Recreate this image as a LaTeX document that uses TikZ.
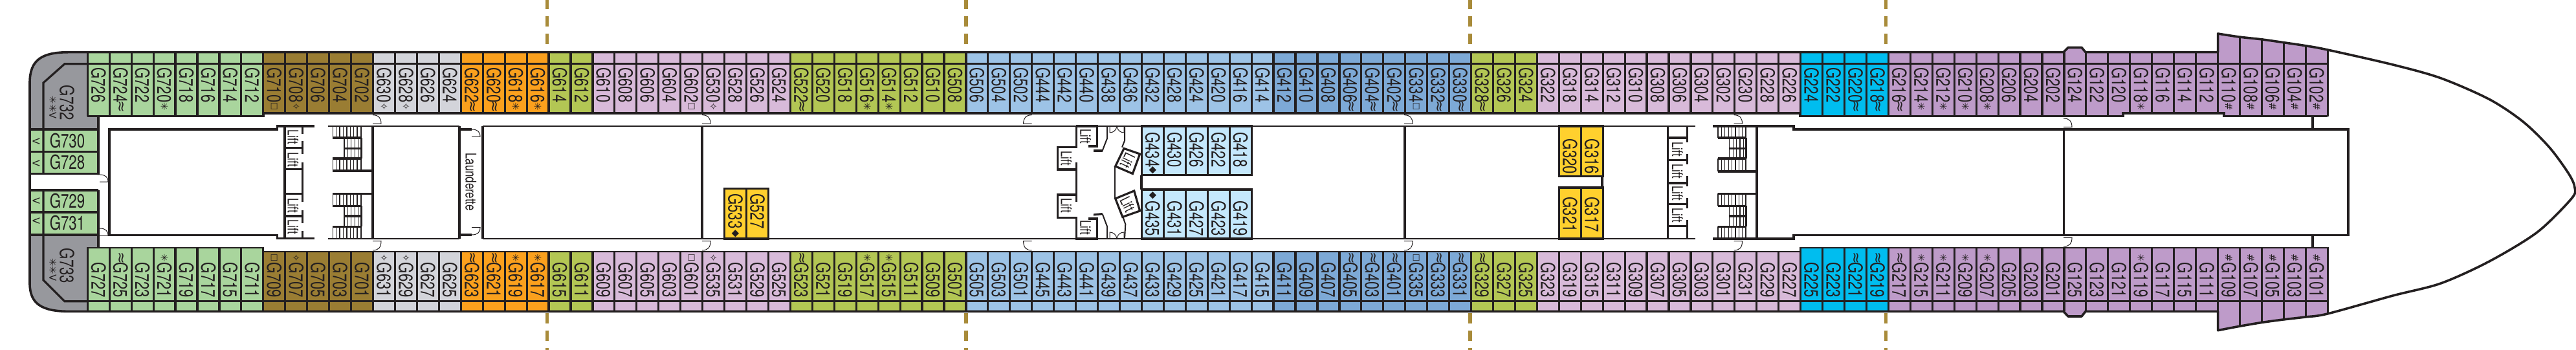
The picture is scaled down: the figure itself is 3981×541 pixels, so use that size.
\documentclass[tikz,border=0pt]{standalone}
\usepackage{fontspec}
\setmainfont{TeX Gyre Heros}
\newfontfamily\cabfont[FakeStretch=0.74]{TeX Gyre Heros}
\newfontfamily\markfont{DejaVu Sans}
\definecolor{deckink}{HTML}{231F20}
\definecolor{sterngrey}{HTML}{97989D}
\definecolor{cabgreen}{HTML}{A9D59D}
\definecolor{cabbrown}{HTML}{9A7D33}
\definecolor{cabgrey}{HTML}{D3D4DA}
\definecolor{caborange}{HTML}{FBA01D}
\definecolor{cabolive}{HTML}{B3C654}
\definecolor{cablilac}{HTML}{D8BAD9}
\definecolor{cabblue}{HTML}{9DC3E6}
\definecolor{cabdeep}{HTML}{7DA9D6}
\definecolor{cabcyan}{HTML}{00BDEF}
\definecolor{cabpurple}{HTML}{BE9BC9}
\definecolor{cabpale}{HTML}{C5E8FC}
\definecolor{cabyellow}{HTML}{FFD02E}
\definecolor{dashgold}{HTML}{A88B3A}
\tikzset{
  hull/.style={draw=deckink,line width=.9pt,line join=round},
  wall/.style={draw=deckink,line width=.8pt},
  thinwall/.style={draw=deckink,line width=.5pt},
  doorline/.style={draw=deckink,line width=.25pt},
  hatchline/.style={draw=deckink,line width=.32pt},
  deckdash/.style={draw=dashgold,line width=1.35pt,dash pattern=on 4.12pt off 2.62pt},
  cabflat/.style={inner sep=0pt,text=deckink,font=\cabfont\fontsize{7.5}{7.5}\selectfont},
  cablabel/.style={cabflat,rotate=-90},
  cabmark/.style={inner sep=0pt,text=deckink,rotate=-90,font=\markfont\fontsize{3.7}{3.7}\selectfont},
  liftlabel/.style={inner sep=0pt,text=deckink,font=\cabfont\fontsize{5.7}{5.7}\selectfont},
}
\newcommand\waves{{\fontsize{5.6}{5.6}\selectfont ≈}}
\newcommand\roomy{{\fontsize{3.2}{3.2}\selectfont □}}
\newcommand\door[4]{\draw[doorline,shift={(#1,#2)},xscale=#3,yscale=#4] (0,0) .. controls (9,0) and (13,5) .. (13,15) -- (0,15);}
\newcommand\stairflight[9]{%
  \foreach \hx in {0,5.4,...,43.2} {
    \draw[hatchline] (#1+\hx,#5) -- (#1+\hx,#6);
    \draw[hatchline] (#1+\hx,#8) -- (#1+\hx,#9);
  }
  \foreach \hx in {0,5.4,...,27} \draw[hatchline] (#2+\hx,#6) -- (#2+\hx,#8);
  \draw[wall] (#1,#6) -- (#3,#6);
  \draw[wall] (#2,#7) -- (#3,#7);
  \draw[wall] (#1,#8) -- (#3,#8);
  \draw[wall,line width=.9pt] (#1,#9) -- (#4,#9);
  \draw[thinwall] (#3,#5) -- (#3,#9);
}
\newcommand\cabbox[5]{%
  \fill[#5] (135.3+33.94*#1,#3) rectangle (135.3+33.94*#2,#4);
  \pgfmathtruncatemacro\boxlast{#2-1}
  \foreach \i in {#1,...,\boxlast} \draw[wall] (135.3+33.94*\i,#3) -- (135.3+33.94*\i,#4);
  \draw[wall] (135.3+33.94*#1,#3) rectangle (135.3+33.94*#2,#4);
}
\begin{document}
\begin{tikzpicture}[x=.25pt,y=-.25pt]
\useasboundingbox (0,0) rectangle (3981,541);

% cut lines
\foreach \x in {845.5,1493,2272,2914.4} {
  \draw[deckdash] (\x,68.3) -- (\x,0);
  \draw[deckdash] (\x,483.8) -- (\x,541);
}

% stern
\fill[sterngrey] (107,80.7) -- (135.3,80.7) -- (135.3,481.4) -- (107,481.4) .. controls (65,481.4) and (46,470) .. (46,438) -- (46,128) .. controls (46,92) and (65,80.7) .. (107,80.7) -- cycle;
\fill[sterngrey] (135,98) rectangle (152,201);
\fill[sterngrey] (135,360) rectangle (152,466);
\fill[cabgreen] (46,200) rectangle (152,269);
\fill[cabgreen] (46,294) rectangle (152,363);

% cabin colours, same along both sides
\foreach \a/\b/\c in {0/8/cabgreen,8/13/cabbrown,13/17/cabgrey,17/21/caborange,21/23/cabolive,23/32/cablilac,32/40/cabolive,40/54/cabblue,54/63/cabdeep,63/66/cabolive,66/78/cablilac,78/82/cabcyan,82/97/cabpurple} {
  \fill[\c] (135.3+33.94*\a,80.7) rectangle (135.3+33.94*\b,180);
  \fill[\c] (135.3+33.94*\a,382) rectangle (135.3+33.94*\b,481.4);
}
\fill[cabpurple] (3427.5,52) -- (3460,57) -- (3494.6,60.8) -- (3528.5,65.6) -- (3562.8,70.7) -- (3597,77) -- (3597,180) -- (3427.5,180) -- cycle;
\fill[cabpurple] (3427.5,510.7) -- (3460,504.5) -- (3494.6,498.6) -- (3528.5,494) -- (3562.8,490) -- (3597,485) -- (3597,382) -- (3427.5,382) -- cycle;
\fill[cabpurple] (3189,81) -- (3196,73.5) -- (3217,73.5) -- (3223,81) -- cycle;
\fill[cabpurple] (3189,481) -- (3196,489) -- (3217,489) -- (3223,481) -- cycle;

\foreach \i in {0,...,97} {
  \draw[wall] (135.3+33.94*\i,80.7) -- (135.3+33.94*\i,180);
  \draw[wall] (135.3+33.94*\i,382) -- (135.3+33.94*\i,481.4);
}
\foreach \x/\t/\b in {3461.4/57/504.5,3495.3/60.8/498.6,3529.3/65.6/494,3563.2/70.7/490,3597.2/77/485} {
  \draw[wall] (\x,\t) -- (\x,180);
  \draw[wall] (\x,382) -- (\x,\b);
}
\draw[wall] (135.3,98.7) -- (3597,98.7);
\draw[wall] (135.3,465.8) -- (3597,465.8);

% corridor
\fill[white] (152,179.4) -- (407,179.4) -- (407,175) -- (2782,175) -- (2782,179.4) -- (3281,179.4) -- (3281,175) -- (3437,175) -- (3437,179.4) -- (3597,179.4) -- (3597,383) -- (2782,383) -- (2782,389) -- (407,389) -- (407,383) -- (152,383) -- cycle;
\draw[wall,line width=.9pt] (135.3,179.4) -- (407,179.4) -- (407,175) -- (2782,175) -- (2782,179.4) -- (3281,179.4) -- (3281,175) -- (3437,175) -- (3437,179.4) -- (3597,179.4);
\draw[thinwall,line width=.65pt] (3597,383) -- (2782,383) -- (2782,389) -- (407,389) -- (407,383) -- (135.3,383);

% hull
\draw[hull] (107,80.7) -- (3189,80.7) -- (3196,73.5) -- (3217,73.5) -- (3223,80.7) -- (3427.5,80.7) -- (3427.5,52) -- plot[smooth] coordinates {(3427.5,52) (3460,57) (3494.6,60.8) (3528.5,65.6) (3562.8,70.7) (3597,77) (3698,100) (3772,120.8) (3847,153.5) (3899,188) (3940,228) (3970,269) (3979,290) (3974,307) (3921,359) (3847,404) (3772,438) (3698,457) (3597,485) (3562.8,490) (3528.5,494) (3494.6,498.6) (3460,504.5) (3427.5,510.7)} -- (3427.5,481.4) -- (3223,481.4) -- (3217,489) -- (3196,489) -- (3189,481.4) -- (107,481.4) .. controls (65,481.4) and (46,470) .. (46,438) -- (46,128) .. controls (46,92) and (65,80.7) .. (107,80.7) -- cycle;

% stern suites and rooms
\draw[wall] (135.3,98.7) -- (100,98.7) -- (67,128) -- (67,269);
\draw[wall] (135.3,465.8) -- (100,465.8) -- (67,433) -- (67,294);
\draw[wall] (152,179.4) -- (152,270);
\draw[wall] (152,294) -- (152,383);
\foreach \y in {200,234.6,269,294,328,363} \draw[wall] (46,\y) -- (152,\y);
\fill[white] (47.5,270.5) rectangle (150.5,292.5);

\node[cablabel,anchor=west] (G732) at (103.6,131) {G732};
\node[cablabel,anchor=west] (G733) at (103.6,383) {G733};
\node[cabmark,anchor=west] (mG732) at (81.7,148) {✳✳V};
\node[cabmark,anchor=west] (mG733) at (81.7,398.6) {✳✳V};
\foreach \n/\y/\v in {G730/217.4/219,G728/251/253,G729/310.5/310.6,G731/344.5/341.6} {
  \node[cabflat] (\n) at (104,\y) {\n};
  \node[cabmark] (m\n) at (56,\v) {V};
}

% cabins on the upper side
\foreach \n/\m [count=\i from 0] in {G726/,G724/\waves,G722/,G720/✳,G718/,G716/,G714/,G712/,G710/\roomy,G708/✧,G706/,G704/,G702/,G630/✧,G628/✧,G626/,G624/,G622/\waves,G620/\waves,G618/✳,G616/✳,G614/,G612/,G610/,G608/,G606/,G604/,G602/\roomy,G530/✧,G528/,G526/,G524/,G522/\waves,G520/,G518/,G516/✳,G514/✳,G512/,G510/,G508/,G506/,G504/,G502/,G444/,G442/,G440/,G438/,G436/,G432/,G428/,G424/,G420/,G416/,G414/,G412/,G410/,G408/,G406/\waves,G404/\waves,G402/\waves,G334/\roomy,G332/\waves,G330/\waves,G328/\waves,G326/,G324/,G322/,G318/,G314/,G312/,G310/,G308/,G306/,G304/,G302/,G230/,G228/,G226/,G224/,G222/,G220/\waves,G218/\waves,G216/\waves,G214/✳,G212/✳,G210/✳,G208/✳,G206/,G204/,G202/,G124/,G122/,G120/,G118/✳,G116/,G114/,G112/,G110/\#,G108/\#,G106/\#,G104/\#,G102/\#} {
  \pgfmathsetmacro\cx{152.27+33.94*(\i)}
  \node[cablabel,anchor=west] (\n) at (\cx,103.5) {\n};
  \node[cabmark] (m\n) at (\cx,165) {\m};
}

% cabins on the lower side
\foreach \n/\m [count=\i from 0] in {G727/,G725/\waves,G723/,G721/✳,G719/,G717/,G715/,G711/,G709/\roomy,G707/✧,G705/,G703/,G701/,G631/✧,G629/✧,G627/,G625/,G623/\waves,G621/\waves,G619/✳,G617/✳,G615/,G611/,G609/,G607/,G605/,G603/,G601/\roomy,G535/✧,G531/,G529/,G525/,G523/\waves,G521/,G519/,G517/✳,G515/✳,G511/,G509/,G507/,G505/,G503/,G501/,G445/,G443/,G441/,G439/,G437/,G433/,G429/,G425/,G421/,G417/,G415/,G411/,G409/,G407/,G405/\waves,G403/\waves,G401/\waves,G335/\roomy,G333/\waves,G331/\waves,G329/\waves,G327/,G325/,G323/,G319/,G315/,G311/,G309/,G307/,G305/,G303/,G301/,G231/,G229/,G227/,G225/,G223/,G221/\waves,G219/\waves,G217/\waves,G215/✳,G211/✳,G209/✳,G207/✳,G205/,G203/,G201/,G125/,G123/,G121/,G119/✳,G117/,G115/,G111/,G109/\#,G107/\#,G105/\#,G103/\#,G101/\#} {
  \pgfmathsetmacro\cx{152.27+33.94*(\i)}
  \node[cablabel,anchor=east] (\n) at (\cx,461) {\n};
  \node[cabmark] (m\n) at (\cx,398.5) {\m};
}

% central block, walls
\draw[wall] (486,195) -- (428.6,195) -- (428.6,200) -- (169,200) -- (169,363.7) -- (428.6,363.7) -- (428.6,368.5) -- (486,368.5);
\draw[thinwall] (507,195) -- (710,195);
\draw[thinwall] (507,369) -- (710,369);
\draw[thinwall] (746,195) -- (2620,195);
\draw[thinwall] (746,369) -- (2620,369);
\draw[wall] (576,195) -- (576,369);
\draw[wall] (710,195) -- (710,369);
\draw[wall] (746,195) -- (746,369);
\draw[wall] (710,200) -- (729,200);
\draw[wall] (710,363) -- (729,363);
\draw[wall] (1085,195) -- (1085,369);
\draw[wall] (2171,195) -- (2171,369);
\draw[wall] (2476,272) -- (2476,291);
\draw[wall] (1764,271) -- (1764,293);
\draw[wall] (2647,195) -- (2772,195) -- (2772,200) -- (3629,200) -- (3629,363.7) -- (2772,363.7) -- (2772,369) -- (2647,369);
\draw[wall] (2715,195) -- (2715,369);
\draw[wall] (3189.6,200) -- (3189.6,363.7);
\draw[wall] (3574,179.4) -- (3574,200);
\draw[wall] (3574,363.7) -- (3574,383);

% staircases
\stairflight{514.3}{532}{558}{574}{195}{213}{229.5}{245}{264}
\stairflight{514.3}{532}{558}{574}{368.5}{350.5}{334}{318.5}{299.5}
\stairflight{2655}{2672.8}{2698}{2715}{195}{213}{229.5}{245}{265}
\stairflight{2655}{2672.8}{2698}{2715}{369}{350.5}{334}{318.5}{299.5}

% lift banks
\draw[wall] (440,195) -- (440,368.5);
\foreach \y in {228.3,261.7,299.5,334} \draw[wall] (440,\y) -- (467.5,\y);
\foreach \a/\b in {195/206.7,218/238,251/312,325/345,357/368.5} \draw[wall] (467.5,\a) -- (467.5,\b);
\draw[wall] (2577.7,195) -- (2577.7,369);
\foreach \y in {213,247.8,283,315.7,349.5} \draw[wall] (2577.7,\y) -- (2607.6,\y);
\foreach \a/\b in {195/220,238/254,272/288,306/322,340/369} \draw[wall] (2607.6,\a) -- (2607.6,\b);
\foreach \x/\y [count=\i] in {453/212,453/247,453/317.5,453/351,1677.7/211,1647.8/245,1647.8/318,1677.7/352,2592.4/230.5,2592.4/265,2592.4/298.5,2592.4/333}
  \node[liftlabel,rotate=-90] (lift\i) at (\x,\y) {Lift};
\node[liftlabel,rotate=-90] (launderette) at (727.7,281) {Launderette};

% midship lobby
\draw[wall] (1663.4,195) -- (1695.5,195) -- (1695.5,226) -- (1682,226);
\draw[wall] (1663.4,195) -- (1663.4,227.7) -- (1634.4,227.7) -- (1634.4,262) -- (1663.4,262);
\draw[wall] (1663.4,251) -- (1663.4,311.6);
\draw[wall] (1663.4,301) -- (1634.4,301) -- (1634.4,336.4) -- (1663.4,336.4) -- (1663.4,369) -- (1695.5,369) -- (1695.5,338) -- (1682,338);
\draw[wall] (1690,233) -- (1703.6,233);
\draw[wall] (1690,332) -- (1703.6,330.6);
\draw[thinwall] (1703.6,233) -- (1711,214) -- (1711,195);
\draw[thinwall] (1703.6,330.6) -- (1711,350) -- (1711,369);
\draw[thinwall] (1738,195) -- (1738,217.4) -- (1734,227.7);
\draw[thinwall] (1734,331) -- (1739.3,346.8) -- (1738,369);
\draw[thinwall] (1722.8,257) -- (1722.8,307);
\draw[wall,fill=white] (1737,229.5) -- (1761.6,238) -- (1750.4,268.5) -- (1723.7,257) -- cycle;
\draw[wall,fill=white] (1723.7,307) -- (1752.7,295) -- (1761.6,326) -- (1734.8,335.4) -- cycle;
\node[liftlabel,rotate=-116] (liftangA) at (1742.4,248) {Lift};
\node[liftlabel,rotate=-64] (liftangB) at (1742.4,315.7) {Lift};
\draw[doorline] (1715,195) -- (1715,205) .. controls (1720,205) and (1725,202) .. (1726,195) .. controls (1727,202) and (1732,205) .. (1737,205) -- (1737,195);
\draw[doorline] (1715,369) -- (1715,359) .. controls (1720,359) and (1725,362) .. (1726,369) .. controls (1727,362) and (1732,359) .. (1737,359) -- (1737,369);

% inner cabins
\cabbox{48}{53}{195}{270.9}{cabpale}
\cabbox{48}{53}{293}{369}{cabpale}
\cabbox{29}{31}{291.6}{369}{cabyellow}
\cabbox{67}{69}{195}{272.6}{cabyellow}
\cabbox{67}{69}{290}{369}{cabyellow}
\foreach \n/\c in {G434/48,G430/49,G426/50,G422/51,G418/52}
  \node[cablabel,anchor=west] (\n) at (152.27+33.94*\c,203.6) {\n};
\foreach \n/\c in {G435/48,G431/49,G427/50,G423/51,G419/52}
  \node[cablabel,anchor=west] (\n) at (152.27+33.94*\c,310) {\n};
\foreach \n/\c in {G533/29,G527/30}
  \node[cablabel,anchor=west] (\n) at (152.27+33.94*\c,298.5) {\n};
\foreach \n/\c in {G320/67,G316/68}
  \node[cablabel,anchor=west] (\n) at (152.27+33.94*\c,214) {\n};
\foreach \n/\c in {G321/67,G317/68}
  \node[cablabel,anchor=west] (\n) at (152.27+33.94*\c,303.6) {\n};
\foreach \n/\c/\y in {G434/48/263,G435/48/302,G533/29/361}
  \node[cabmark] (m\n) at (152.27+33.94*\c,\y) {◆};

% doors
\foreach \x/\s in {576/1,1085/1,1594.6/-1,2170/1,2679.5/1} {
  \door{\x}{177.7}{\s}{.9}
  \door{\x}{387}{\s}{-.95}
}
\door{3189}{183}{1}{.9}
\door{3189}{381}{1}{-.9}
\door{154}{270}{1}{.75}
\door{154}{353}{1}{.75}
\door{729}{200}{1}{.75}
\door{729}{363}{1}{-.75}
\end{tikzpicture}
\end{document}
